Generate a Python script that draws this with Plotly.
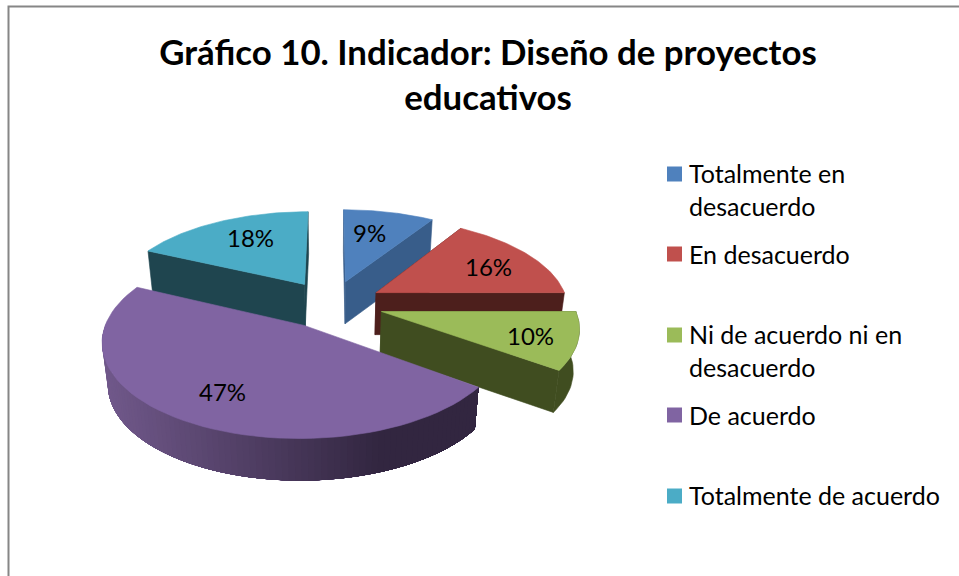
import math
import plotly.graph_objects as go

categories = ["Totalmente en desacuerdo", "En desacuerdo", "Ni de acuerdo ni en desacuerdo", "De acuerdo", "Totalmente de acuerdo"]
legend_lines = ["Totalmente en<br>desacuerdo", "En desacuerdo", "Ni de acuerdo ni en<br>desacuerdo", "De acuerdo", "Totalmente de acuerdo"]
values = [9, 16, 10, 47, 18]
colors = ["#4F81BD", "#C0504D", "#9BBB59", "#8064A2", "#4BACC6"]
wall_colors = ["#385D8A", "#4D1F1C", "#404D20", "#5A4674", "#1F454F"]
title_text = "Gráfico 10. Indicador: Diseño de proyectos<br>educativos"

FONT = "Lato"
CX, CY, RA, RB, PERSP, EXPL, DEPTH, SHRINK = 331.5, 304, 192, 89, 0.15, 0.27, 42, 0.975


def project(X, Y):
    w = 1 - PERSP * Y
    return CX + RA * X / w, CY + RB * Y / w


def below(p):
    return CX + (p[0] - CX) * SHRINK, p[1] + DEPTH


def disc(ang, off):
    a = math.radians(ang)
    return off[0] + math.sin(a), off[1] - math.cos(a)


def lerp_color(c1, c2, t):
    return "rgb(%d,%d,%d)" % tuple(round(c1[i] + (c2[i] - c1[i]) * t) for i in range(3))


total = sum(values)
bounds = []
s = 0
for v in values:
    bounds.append((s * 360 / total, (s + v) * 360 / total))
    s += v

traces = []


def poly(pts, color, width=0.6):
    traces.append(go.Scatter(x=[p[0] for p in pts] + [pts[0][0]], y=[p[1] for p in pts] + [pts[0][1]],
                             mode="lines", fill="toself", fillcolor=color,
                             line=dict(color=color, width=width),
                             hoverinfo="skip", showlegend=False))


def arc(a0, a1, off, n=60):
    return [project(*disc(a0 + (a1 - a0) * k / n, off)) for k in range(n + 1)]


def draw_slice(i):
    a0, a1 = bounds[i]
    mid = math.radians((a0 + a1) / 2)
    off = (EXPL * math.sin(mid), -EXPL * math.cos(mid))
    apex = project(*off)
    rim = arc(a0, a1, off)
    if i != 3:
        for ang in (a0, a1):
            end = project(*disc(ang, off))
            poly([apex, end, below(end), below(apex)], wall_colors[i])
    if i == 3:
        # shaded outer wall: each step repaints the remainder of the rim, so no seams appear
        start, stop = min(a1, 272), a0
        n = 90
        for k in range(n):
            b = start + (stop - start) * k / n
            p = arc(b, stop, off, 40)
            t = max(0, min(1, (p[0][0] - 105) / (377 - 105)))
            poly(p + [below(q) for q in reversed(p)], lerp_color((112, 88, 138), (50, 38, 64), t), width=0)
    elif a1 > 90 and a0 < 270:
        p = arc(max(a0, 90), min(a1, 270), off, 20)
        poly(p + [below(q) for q in reversed(p)], wall_colors[i])
    poly([apex] + rim, colors[i])


for i in [4, 0, 1, 2, 3]:
    draw_slice(i)

swatch_y = [174, 254, 335, 415, 496]
text_y = [173, 254, 334, 415, 495]
for name, col, sy in zip(categories, colors, swatch_y):
    traces.append(go.Scatter(x=[674.5], y=[sy], mode="markers", name=name, showlegend=False, hoverinfo="name",
                             marker=dict(symbol="square", size=15, color=col, line=dict(width=0))))

fig = go.Figure(traces)

label_xy = [(369, 232), (488, 266), (530, 335), (222, 391), (250, 237)]
for v, (lx, ly) in zip(values, label_xy):
    fig.add_annotation(x=lx, y=ly, text=f"{v}%", showarrow=False, font=dict(family=FONT, size=24, color="#000"))

for line, ty in zip(legend_lines, text_y):
    fig.add_annotation(x=689, y=ty - 16, text=line, showarrow=False, xanchor="left", yanchor="top", align="left",
                       xshift=-1, borderpad=0, font=dict(family=FONT, size=25, color="#000"))

fig.add_shape(type="rect", x0=8.5, y0=6.5, x1=975, y1=600, line=dict(color="#868686", width=2), layer="below")

fig.update_layout(
    width=959, height=576, margin=dict(l=0, r=0, t=0, b=0),
    paper_bgcolor="white", plot_bgcolor="white", showlegend=False,
    xaxis=dict(range=[0, 959], visible=False, fixedrange=True),
    yaxis=dict(range=[576, 0], visible=False, fixedrange=True),
    title=dict(text=title_text, x=488 / 959, xanchor="center", y=1 - 65 / 576, yanchor="top",
               font=dict(family=FONT, size=34.8, color="#000", weight="bold")),
)
fig.write_html("out.html", post_script="document.body.style.margin='0';", config={"displayModeBar": False})
